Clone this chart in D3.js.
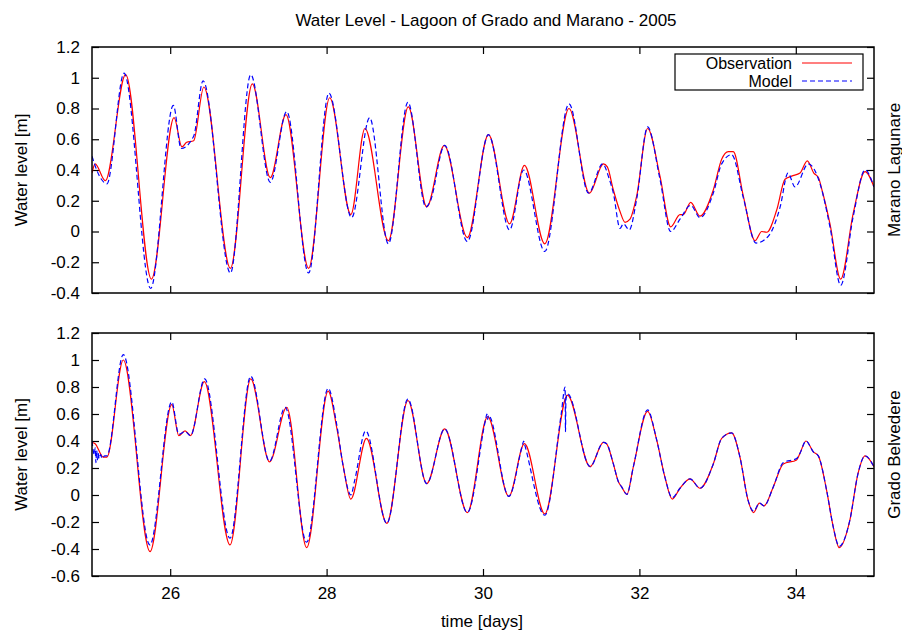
<html>
<head>
    <meta charset="utf-8">
    <title>Water Level</title>
    <script src="https://d3js.org/d3.v7.min.js"></script>
    <style>
        body { margin: 0; background: #fff; }
        text { font-family: "Liberation Sans", Arial, sans-serif; fill: #000; }
    </style>
</head>
<body>
<div id="chart"></div>

<script>
    var width = 902,
        height = 636,
        fontSize = 17,
        obsColor = "#ff0000",
        modelColor = "#0000ff";

    // x tick labels (days)
    var xTicks = [26, 28, 30, 32, 34];
    var yTicksTop = [-0.4, -0.2, 0, 0.2, 0.4, 0.6, 0.8, 1, 1.2];
    var yTicksBottom = [-0.6, -0.4, -0.2, 0, 0.2, 0.4, 0.6, 0.8, 1, 1.2];

    // Marano Lagunare - observation [day, level]
    var maranoObs = [
        [25.00, 0.38], [25.04, 0.44], [25.17, 0.33], [25.43, 1.02], [25.76, -0.31],
        [26.05, 0.74], [26.15, 0.55], [26.21, 0.58], [26.30, 0.59], [26.43, 0.94],
        [26.77, -0.24], [27.05, 0.96], [27.28, 0.35], [27.48, 0.76], [27.77, -0.24],
        [28.04, 0.87], [28.31, 0.11], [28.49, 0.67], [28.79, -0.06], [29.045, 0.81],
        [29.28, 0.16], [29.505, 0.56], [29.80, -0.04], [30.07, 0.63], [30.34, 0.05],
        [30.53, 0.43], [30.79, -0.08], [31.10, 0.80], [31.36, 0.25], [31.54, 0.44],
        [31.59, 0.42], [31.667, 0.27], [31.752, 0.13], [31.816, 0.06], [31.88, 0.08],
        [31.965, 0.23], [32.105, 0.67], [32.263, 0.36], [32.40, 0.03], [32.519, 0.11],
        [32.56, 0.11], [32.656, 0.19], [32.775, 0.10], [32.945, 0.27], [33.052, 0.47],
        [33.137, 0.52], [33.20, 0.52], [33.329, 0.23], [33.48, -0.06], [33.564, 0.0],
        [33.628, -0.005], [33.756, 0.14], [33.862, 0.34], [33.947, 0.36], [34.054, 0.38],
        [34.147, 0.46], [34.23, 0.38], [34.29, 0.35], [34.34, 0.26], [34.437, 0.05],
        [34.574, -0.31], [34.735, 0.12], [34.885, 0.39], [35.0, 0.29]
    ];

    // Marano Lagunare - model
    var maranoModel = [
        [25.00, 0.49], [25.06, 0.40], [25.12, 0.34], [25.19, 0.31], [25.41, 1.03],
        [25.75, -0.37], [26.04, 0.82], [26.14, 0.54], [26.30, 0.62], [26.42, 0.98],
        [26.77, -0.27], [27.03, 1.02], [27.28, 0.32], [27.49, 0.78], [27.77, -0.27],
        [28.03, 0.90], [28.32, 0.09], [28.55, 0.74], [28.79, -0.08], [29.04, 0.84],
        [29.27, 0.16], [29.32, 0.19], [29.51, 0.56], [29.80, -0.065], [30.07, 0.63],
        [30.34, 0.01], [30.52, 0.40], [30.79, -0.13], [31.10, 0.83], [31.35, 0.25],
        [31.53, 0.44], [31.615, 0.34], [31.667, 0.25], [31.752, 0.02], [31.795, 0.05],
        [31.87, 0.01], [31.965, 0.21], [32.105, 0.68], [32.263, 0.34], [32.40, 0.0],
        [32.519, 0.08], [32.656, 0.17], [32.775, 0.09], [32.945, 0.25], [33.052, 0.44],
        [33.18, 0.50], [33.329, 0.22], [33.49, -0.075], [33.65, -0.03], [33.80, 0.16],
        [33.90, 0.38], [33.99, 0.29], [34.16, 0.44], [34.31, 0.31], [34.437, 0.03],
        [34.574, -0.35], [34.735, 0.10], [34.885, 0.40], [35.0, 0.29]
    ];

    // Grado Belvedere - observation
    var gradoObs = [
        [25.00, 0.39], [25.04, 0.38], [25.145, 0.28], [25.19, 0.28], [25.40, 1.00],
        [25.742, -0.42], [26.02, 0.67], [26.11, 0.44], [26.19, 0.475], [26.26, 0.44],
        [26.436, 0.84], [26.765, -0.37], [27.03, 0.86], [27.27, 0.245], [27.49, 0.65],
        [27.745, -0.39], [28.02, 0.77], [28.129, 0.50], [28.214, 0.21], [28.31, -0.03],
        [28.51, 0.42], [28.77, -0.21], [29.04, 0.70], [29.28, 0.085], [29.51, 0.49],
        [29.80, -0.13], [30.06, 0.58], [30.33, -0.01], [30.53, 0.38], [30.79, -0.14],
        [31.08, 0.74], [31.37, 0.21], [31.54, 0.39], [31.58, 0.38], [31.667, 0.23],
        [31.73, 0.10], [31.773, 0.06], [31.84, 0.005], [31.923, 0.21], [32.105, 0.62],
        [32.22, 0.41], [32.327, 0.13], [32.42, -0.03], [32.519, 0.05], [32.647, 0.12],
        [32.775, 0.05], [32.945, 0.23], [33.052, 0.42], [33.18, 0.46], [33.286, 0.28],
        [33.39, -0.04], [33.46, -0.13], [33.535, -0.06], [33.595, -0.08], [33.712, 0.06],
        [33.84, 0.23], [34.01, 0.26], [34.054, 0.31], [34.13, 0.40], [34.224, 0.32],
        [34.288, 0.29], [34.394, 0.035], [34.48, -0.24], [34.556, -0.39], [34.69, -0.19],
        [34.796, 0.16], [34.885, 0.29], [35.0, 0.21]
    ];

    // Grado Belvedere - model
    var gradoModel = [
        [25.00, 0.40], [25.03, 0.30], [25.04, 0.35], [25.05, 0.24], [25.06, 0.33],
        [25.07, 0.26], [25.08, 0.31], [25.09, 0.27], [25.11, 0.30], [25.13, 0.27],
        [25.16, 0.29], [25.19, 0.29], [25.40, 1.04], [25.74, -0.37], [26.02, 0.69],
        [26.11, 0.45], [26.19, 0.47], [26.26, 0.44], [26.44, 0.86], [26.765, -0.32],
        [27.03, 0.88], [27.27, 0.25], [27.47, 0.65], [27.745, -0.35], [28.02, 0.79],
        [28.13, 0.52], [28.21, 0.22], [28.31, 0.0], [28.36, 0.11], [28.50, 0.475],
        [28.77, -0.21], [29.04, 0.71], [29.28, 0.085], [29.51, 0.49], [29.80, -0.13],
        [30.03, 0.55], [30.05, 0.60], [30.06, 0.56], [30.07, 0.59], [30.33, -0.01],
        [30.50, 0.36], [30.52, 0.40], [30.53, 0.38], [30.79, -0.15], [31.00, 0.60],
        [31.05, 0.80], [31.055, 0.47], [31.06, 0.70], [31.08, 0.75], [31.37, 0.21],
        [31.54, 0.39], [31.58, 0.38], [31.667, 0.23], [31.73, 0.10], [31.773, 0.06],
        [31.84, 0.005], [31.923, 0.21], [32.105, 0.63], [32.22, 0.41], [32.327, 0.13],
        [32.42, -0.02], [32.519, 0.05], [32.647, 0.12], [32.775, 0.05], [32.945, 0.23],
        [33.052, 0.42], [33.18, 0.46], [33.286, 0.28], [33.39, -0.04], [33.46, -0.12],
        [33.535, -0.06], [33.595, -0.08], [33.712, 0.06], [33.84, 0.24], [34.01, 0.27],
        [34.054, 0.31], [34.13, 0.40], [34.224, 0.32], [34.288, 0.29], [34.394, 0.035],
        [34.48, -0.24], [34.556, -0.38], [34.69, -0.19], [34.796, 0.16], [34.885, 0.29],
        [35.0, 0.21]
    ];

    var left = 92, right = 874;

    var svg = d3.select("#chart").append("svg")
        .attr("width", width)
        .attr("height", height)
        .style("font-size", fontSize + "px");

    var x = d3.scaleLinear().domain([25, 35]).range([left, right]);

    var fmt = function (d) { return String(+d.toFixed(1)); };

    // Title
    svg.append("text")
        .attr("x", 486).attr("y", 26)
        .attr("text-anchor", "middle")
        .text("Water Level - Lagoon of Grado and Marano - 2005");

    var panels = [
        {id: "top", top: 47, bottom: 293, domain: [-0.4, 1.2], ticks: yTicksTop,
            obs: maranoObs, model: maranoModel, name: "Marano Lagunare", xLabels: false, legend: true},
        {id: "bot", top: 333, bottom: 576, domain: [-0.6, 1.2], ticks: yTicksBottom,
            obs: gradoObs, model: gradoModel, name: "Grado Belvedere", xLabels: true, legend: false}
    ];

    panels.forEach(function (p) {
        var y = d3.scaleLinear().domain(p.domain).range([p.bottom, p.top]);
        var g = svg.append("g");

        // Clip
        svg.append("clipPath").attr("id", "clip-" + p.id)
            .append("rect")
            .attr("x", left).attr("y", p.top)
            .attr("width", right - left).attr("height", p.bottom - p.top);

        // Axes, ticks pointing inward
        var axL = g.append("g").attr("transform", "translate(" + left + ",0)")
            .call(d3.axisLeft(y).tickValues(p.ticks).tickSize(-7).tickPadding(12).tickFormat(fmt));
        var axR = g.append("g").attr("transform", "translate(" + right + ",0)")
            .call(d3.axisRight(y).tickValues(p.ticks).tickSize(-7).tickFormat(""));
        var axT = g.append("g").attr("transform", "translate(0," + p.top + ")")
            .call(d3.axisTop(x).tickValues(xTicks).tickSize(-7).tickFormat(""));
        var axB = g.append("g").attr("transform", "translate(0," + p.bottom + ")")
            .call(d3.axisBottom(x).tickValues(xTicks).tickSize(-7).tickPadding(11)
                .tickFormat(p.xLabels ? d3.format("d") : ""));

        [axL, axR, axT, axB].forEach(function (a) {
            a.select(".domain").remove();
            a.selectAll(".tick line").attr("stroke", "#000").attr("stroke-width", 1.2);
            a.selectAll(".tick text").attr("font-size", fontSize)
                .attr("font-family", "Liberation Sans, Arial, sans-serif").attr("fill", "#000");
        });

        var line = d3.line()
            .x(function (d) { return x(d[0]); })
            .y(function (d) { return y(d[1]); })
            .curve(d3.curveMonotoneX);

        var plot = g.append("g").attr("clip-path", "url(#clip-" + p.id + ")");
        plot.append("path")
            .attr("d", line(p.obs))
            .attr("fill", "none")
            .attr("stroke", obsColor)
            .attr("stroke-width", 1.2);
        plot.append("path")
            .attr("d", line(p.model))
            .attr("fill", "none")
            .attr("stroke", modelColor)
            .attr("stroke-width", 1.2)
            .attr("stroke-dasharray", "5,3");

        // Border
        g.append("rect")
            .attr("x", left).attr("y", p.top)
            .attr("width", right - left).attr("height", p.bottom - p.top)
            .attr("fill", "none")
            .attr("stroke", "#000")
            .attr("stroke-width", 1.5);

        // Y label
        var cy = (p.top + p.bottom) / 2;
        g.append("text")
            .attr("transform", "translate(21," + cy + ") rotate(-90)")
            .attr("text-anchor", "middle")
            .attr("dominant-baseline", "central")
            .text("Water level [m]");

        // Station name on the right
        g.append("text")
            .attr("transform", "translate(894," + cy + ") rotate(-90)")
            .attr("text-anchor", "middle")
            .attr("dominant-baseline", "central")
            .text(p.name);

        if (p.legend) {
            var lg = g.append("g");
            lg.append("rect")
                .attr("x", 675).attr("y", 54)
                .attr("width", 188).attr("height", 36)
                .attr("fill", "#fff").attr("stroke", "#000").attr("stroke-width", 1.2);
            var items = [
                {label: "Observation", color: obsColor, dash: "none", yy: 63},
                {label: "Model", color: modelColor, dash: "5,3", yy: 81}
            ];
            items.forEach(function (it) {
                lg.append("text")
                    .attr("x", 792).attr("y", it.yy)
                    .attr("text-anchor", "end")
                    .attr("dominant-baseline", "central")
                    .style("font-size", "16px")
                    .text(it.label);
                lg.append("line")
                    .attr("x1", 802).attr("x2", 852)
                    .attr("y1", it.yy).attr("y2", it.yy)
                    .style("stroke", it.color)
                    .style("stroke-width", 1.2)
                    .style("stroke-dasharray", it.dash);
            });
        }
    });

    // X axis label
    svg.append("text")
        .attr("x", 482).attr("y", 627)
        .attr("text-anchor", "middle")
        .text("time [days]");
</script>
</body>
</html>
